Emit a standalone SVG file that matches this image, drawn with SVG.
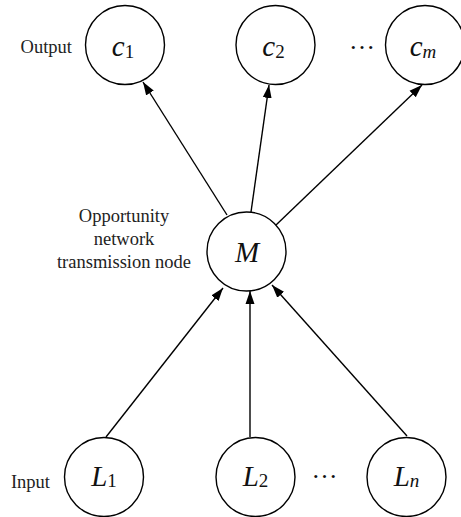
<svg xmlns="http://www.w3.org/2000/svg" width="461" height="517" viewBox="0 0 461 517">
<style>
.node{fill:#fff;stroke:#000;stroke-width:1.4}
.lbl{font-family:"Liberation Serif","Times New Roman",serif;font-size:18.5px;fill:#222}
.math{font-family:"Liberation Serif","Times New Roman",serif;font-size:29px;font-style:italic;fill:#111;text-anchor:middle}
.sub{font-size:19px;font-style:normal}
.subi{font-size:19px;font-style:italic}
.dots{font-family:"Liberation Serif","Times New Roman",serif;font-size:26px;fill:#111;text-anchor:middle}
.edge{stroke:#000;stroke-width:1.4;fill:none;marker-end:url(#arr)}
</style>
<defs>
<marker id="arr" markerUnits="userSpaceOnUse" markerWidth="14" markerHeight="10" refX="13" refY="5" orient="auto">
<path d="M0,0.5 L13,5 L0,9.5 z" fill="#000"/>
</marker>
</defs>
<g id="connectors">
<line class="edge" x1="106" y1="437" x2="223" y2="288"/>
<line class="edge" x1="250" y1="437" x2="250" y2="291"/>
<line class="edge" x1="407" y1="436" x2="272" y2="285"/>
<line class="edge" x1="227" y1="215" x2="143" y2="82"/>
<line class="edge" x1="251" y1="212" x2="269" y2="85"/>
<line class="edge" x1="276" y1="225" x2="422" y2="85"/>
</g>
<g id="c1"><circle class="node" cx="125" cy="45" r="39.5"/><text class="math" x="123" y="56">c<tspan class="sub" dy="2">1</tspan></text></g>
<g id="c2"><circle class="node" cx="275.5" cy="45" r="39.5"/><text class="math" x="273.5" y="56">c<tspan class="sub" dy="2">2</tspan></text></g>
<g id="cm"><circle class="node" cx="425" cy="45" r="39.5"/><text class="math" x="423" y="56">c<tspan class="subi" dy="2">m</tspan></text></g>
<g id="M"><circle class="node" cx="246.5" cy="251.5" r="39.5"/><text class="math" x="247" y="262">M</text></g>
<g id="L1"><circle class="node" cx="104" cy="477" r="39.5"/><text class="math" x="104" y="486">L<tspan class="sub" dy="1">1</tspan></text></g>
<g id="L2"><circle class="node" cx="255.5" cy="477" r="39.5"/><text class="math" x="255.5" y="486">L<tspan class="sub" dy="1">2</tspan></text></g>
<g id="Ln"><circle class="node" cx="406.5" cy="477" r="39.5"/><text class="math" x="406.5" y="486">L<tspan class="subi" dy="1">n</tspan></text></g>
<g id="labels">
<text class="lbl" x="72" y="53" text-anchor="end">Output</text>
<text class="lbl" x="50" y="488" text-anchor="end">Input</text>
<text class="lbl" x="124" y="222" text-anchor="middle">Opportunity</text>
<text class="lbl" x="124" y="245" text-anchor="middle">network</text>
<text class="lbl" x="124" y="268" text-anchor="middle">transmission node</text>
<text class="dots" x="362" y="49">…</text>
<text class="dots" x="324.5" y="478">…</text>
</g>
</svg>
